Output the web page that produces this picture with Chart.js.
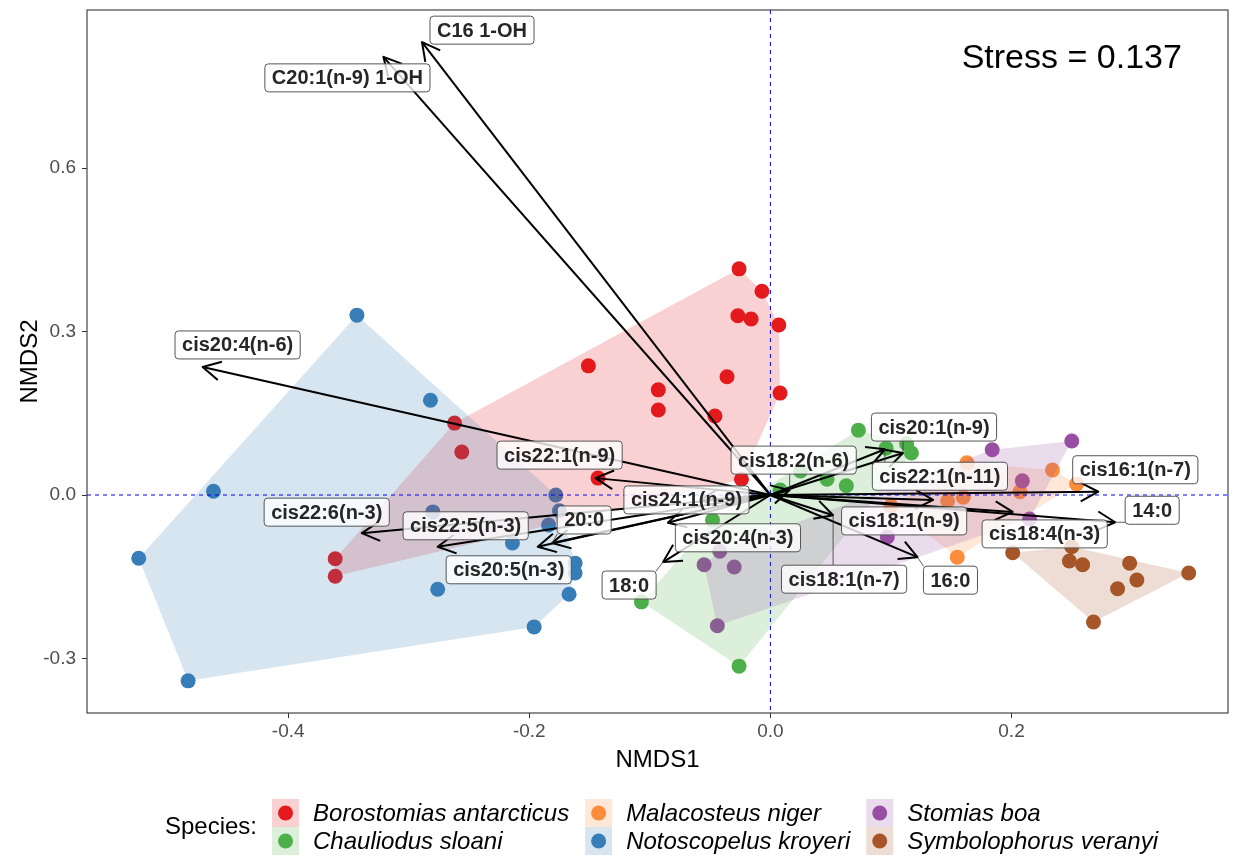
<!DOCTYPE html>
<html>
<head>
<meta charset="utf-8">
<title>NMDS ordination of fatty acid profiles</title>
<script src="https://cdn.jsdelivr.net/npm/chart.js@4.4.1/dist/chart.umd.min.js"></script>
<style>
  html, body { margin: 0; padding: 0; background: #ffffff; }
  canvas { display: block; }
</style>
</head>
<body>
<canvas id="nmds" width="1239" height="856"></canvas>
<script>
// ---- data ---------------------------------------------------------------
const speciesNames = [
  'Borostomias antarcticus', 'Chauliodus sloani', 'Malacosteus niger',
  'Notoscopelus kroyeri', 'Stomias boa', 'Symbolophorus veranyi'
];

const borostomiasX = [-0.026, -0.007, -0.027, -0.016, 0.007, -0.151, -0.036, 0.008, -0.093,
                      -0.093, -0.046, -0.024, -0.143, -0.262, -0.256, -0.361, -0.361];
const borostomiasY = [0.415, 0.374, 0.329, 0.323, 0.312, 0.237, 0.217, 0.187, 0.193,
                      0.156, 0.145, 0.029, 0.031, 0.132, 0.079, -0.117, -0.149];

const chauliodusX = [0.073, 0.096, 0.113, 0.117, 0.047, 0.063, 0.025, 0.008, -0.048, -0.107, -0.026];
const chauliodusY = [0.119, 0.086, 0.094, 0.077, 0.029, 0.017, 0.044, 0.009, -0.046, -0.196, -0.314];

const malacosteusX = [0.234, 0.254, 0.207, 0.163, 0.160, 0.147, 0.155, 0.100];
const malacosteusY = [0.046, 0.020, 0.006, 0.059, -0.004, -0.011, -0.114, -0.020];

const notoscopelusX = [-0.343, -0.282, -0.462, -0.524, -0.483, -0.280, -0.276, -0.178,
                       -0.175, -0.184, -0.214, -0.162, -0.162, -0.167, -0.196];
const notoscopelusY = [0.330, 0.174, 0.007, -0.116, -0.341, -0.031, -0.173, 0.000,
                       -0.029, -0.055, -0.088, -0.125, -0.143, -0.182, -0.242];

const stomiasX = [0.250, 0.184, 0.209, 0.215, 0.097, -0.042, -0.055, -0.030, -0.044];
const stomiasY = [0.099, 0.083, 0.026, -0.044, -0.077, -0.103, -0.128, -0.132, -0.240];

const symbolophorusX = [0.201, 0.250, 0.248, 0.259, 0.298, 0.304, 0.288, 0.347, 0.268];
const symbolophorusY = [-0.106, -0.095, -0.121, -0.128, -0.125, -0.156, -0.172, -0.143, -0.233];

// fitted fatty-acid vectors (envfit scores)
const vectorNames = [
  'C16 1-OH', 'C20:1(n-9) 1-OH', 'cis20:4(n-6)', 'cis22:1(n-9)', 'cis22:6(n-3)',
  'cis22:5(n-3)', 'cis20:5(n-3)', '20:0', 'cis24:1(n-9)', 'cis20:4(n-3)', '18:0',
  'cis18:2(n-6)', 'cis20:1(n-9)', 'cis22:1(n-11)', 'cis18:1(n-9)', 'cis18:1(n-7)',
  '16:0', 'cis18:4(n-3)', 'cis16:1(n-7)', '14:0'
];
const vectorX = [-0.289, -0.321, -0.471, -0.145, -0.339, -0.276, -0.193, -0.181, -0.058, -0.085,
                 -0.089, 0.016, 0.110, 0.095, 0.135, 0.052, 0.122, 0.201, 0.272, 0.286];
const vectorY = [0.831, 0.804, 0.235, 0.031, -0.070, -0.095, -0.095, -0.088, -0.009, -0.051,
                 -0.123, 0.009, 0.077, 0.084, -0.009, -0.037, -0.114, -0.031, 0.006, -0.050];

const xTickValues = [-0.4, -0.2, 0.0, 0.2];
const yTickValues = [-0.3, 0.0, 0.3, 0.6];
const stressValue = 0.137;

// ---- appearance ---------------------------------------------------------
const speciesColors = ['#E41A1C', '#4DAF4A', '#FD8D3C', '#377EB8', '#984EA3', '#A65628'];
const axisRange = { xMin: -0.5669, xMax: 0.3796, yMin: -0.400, yMax: 0.890 };
const stressAnchor = { x: 0.25, y: 0.80 };
// repelled label placement: offset of each label box centre from its arrow tip (px)
const labelNudge = [
  [60, -12], [-36, 21], [35, -22], [-36, -23], [-35, -21],
  [28, -21], [-29, 23], [32, -23], [-14, 0], [70, 15], [-34, 23],
  [4, -30], [31, -26], [55, 27], [-29, 21], [11, 64],
  [33, 23], [32, 22], [37, -22], [37, -12]
];
const FONT = '"Liberation Sans", Arial, Helvetica, sans-serif';

function hexToRgba(hex, a) {
  const n = parseInt(hex.slice(1), 16);
  return `rgba(${(n >> 16) & 255}, ${(n >> 8) & 255}, ${n & 255}, ${a})`;
}
function zipPoints(xs, ys) { return xs.map((v, i) => ({ x: v, y: ys[i] })); }

const speciesPoints = [
  zipPoints(borostomiasX, borostomiasY),
  zipPoints(chauliodusX, chauliodusY),
  zipPoints(malacosteusX, malacosteusY),
  zipPoints(notoscopelusX, notoscopelusY),
  zipPoints(stomiasX, stomiasY),
  zipPoints(symbolophorusX, symbolophorusY)
];

// Andrew's monotone chain convex hull
function convexHull(points) {
  const pts = points.slice().sort((a, b) => a.x - b.x || a.y - b.y);
  const cross = (o, a, b) => (a.x - o.x) * (b.y - o.y) - (a.y - o.y) * (b.x - o.x);
  const lower = [];
  for (const p of pts) {
    while (lower.length >= 2 && cross(lower[lower.length - 2], lower[lower.length - 1], p) <= 0) lower.pop();
    lower.push(p);
  }
  const upper = [];
  for (let i = pts.length - 1; i >= 0; i--) {
    const p = pts[i];
    while (upper.length >= 2 && cross(upper[upper.length - 2], upper[upper.length - 1], p) <= 0) upper.pop();
    upper.push(p);
  }
  upper.pop(); lower.pop();
  return lower.concat(upper);
}

// ---- datasets -----------------------------------------------------------
const pointDatasets = speciesNames.map((name, i) => ({
  label: name,
  data: speciesPoints[i],
  backgroundColor: speciesColors[i],
  borderWidth: 0,
  pointRadius: 7.5,
  pointHoverRadius: 7.5,
  order: 10 - i
}));

const vectorDatasets = vectorNames.map((name, i) => ({
  type: 'line',
  label: name,
  data: [{ x: 0, y: 0 }, { x: vectorX[i], y: vectorY[i] }],
  borderColor: '#000000',
  borderWidth: 2,
  pointRadius: 0,
  fill: false,
  tension: 0,
  order: 1
}));

// ---- drawing helpers ----------------------------------------------------
const ordinationOverlay = {
  id: 'ordinationOverlay',
  // hulls sit over the points, below the vectors
  afterDatasetDraw(chart, args) {
    if (args.index !== speciesNames.length - 1) return;
    const { ctx, chartArea: a, scales: { x, y } } = chart;
    ctx.save();
    ctx.beginPath();
    ctx.rect(a.left, a.top, a.right - a.left, a.bottom - a.top);
    ctx.clip();
    speciesPoints.forEach((pts, i) => {
      const hull = convexHull(pts);
      ctx.beginPath();
      hull.forEach((p, k) => {
        const px = x.getPixelForValue(p.x), py = y.getPixelForValue(p.y);
        if (k === 0) ctx.moveTo(px, py); else ctx.lineTo(px, py);
      });
      ctx.closePath();
      ctx.fillStyle = hexToRgba(speciesColors[i], 0.2);
      ctx.fill();
    });
    // zero reference lines
    const x0 = x.getPixelForValue(0), y0 = y.getPixelForValue(0);
    ctx.setLineDash([4, 4]);
    ctx.strokeStyle = '#0000FF';
    ctx.lineWidth = 1;
    ctx.beginPath();
    ctx.moveTo(x0, a.top); ctx.lineTo(x0, a.bottom);
    ctx.moveTo(a.left, y0); ctx.lineTo(a.right, y0);
    ctx.stroke();
    ctx.restore();
  },
  afterDatasetsDraw(chart) {
    const { ctx, chartArea: a, scales: { x, y } } = chart;
    const ox = x.getPixelForValue(0), oy = y.getPixelForValue(0);
    ctx.save();
    ctx.beginPath();
    ctx.rect(a.left, a.top, a.right - a.left, a.bottom - a.top);
    ctx.clip();

    // open arrowheads
    const headLen = 20, headAng = 28 * Math.PI / 180;
    ctx.strokeStyle = '#000000';
    ctx.lineWidth = 2;
    ctx.lineJoin = 'round';
    vectorNames.forEach((_, i) => {
      const tx = x.getPixelForValue(vectorX[i]), ty = y.getPixelForValue(vectorY[i]);
      const ang = Math.atan2(ty - oy, tx - ox);
      ctx.beginPath();
      ctx.moveTo(tx - headLen * Math.cos(ang - headAng), ty - headLen * Math.sin(ang - headAng));
      ctx.lineTo(tx, ty);
      ctx.lineTo(tx - headLen * Math.cos(ang + headAng), ty - headLen * Math.sin(ang + headAng));
      ctx.stroke();
    });

    // vector labels
    ctx.font = 'bold 20px ' + FONT;
    const boxes = vectorNames.map((name, i) => {
      const tx = x.getPixelForValue(vectorX[i]), ty = y.getPixelForValue(vectorY[i]);
      const w = ctx.measureText(name).width + 14, h = 28;
      const cx = tx + labelNudge[i][0], cy = ty + labelNudge[i][1];
      return { name, tx, ty, cx, cy, l: cx - w / 2, t: cy - h / 2, w, h };
    });
    boxes.forEach(b => {
      const nx = Math.min(Math.max(b.tx, b.l), b.l + b.w);
      const ny = Math.min(Math.max(b.ty, b.t), b.t + b.h);
      if (Math.hypot(b.tx - nx, b.ty - ny) > 9) {
        ctx.strokeStyle = '#333333';
        ctx.lineWidth = 0.8;
        ctx.beginPath();
        ctx.moveTo(nx, ny); ctx.lineTo(b.tx, b.ty);
        ctx.stroke();
      }
    });
    boxes.forEach(b => {
      ctx.beginPath();
      ctx.roundRect(b.l, b.t, b.w, b.h, 3.5);
      ctx.fillStyle = 'rgba(255,255,255,0.8)';
      ctx.fill();
      ctx.strokeStyle = '#555555';
      ctx.lineWidth = 1;
      ctx.stroke();
      ctx.fillStyle = '#262626';
      ctx.textAlign = 'center';
      ctx.textBaseline = 'middle';
      ctx.fillText(b.name, b.cx, b.cy + 1);
    });

    // stress annotation
    ctx.font = '34px ' + FONT;
    ctx.fillStyle = '#000000';
    ctx.textAlign = 'center';
    ctx.textBaseline = 'middle';
    ctx.fillText('Stress = ' + stressValue.toFixed(3),
      x.getPixelForValue(stressAnchor.x), y.getPixelForValue(stressAnchor.y));
    ctx.restore();

    // panel border
    ctx.save();
    ctx.strokeStyle = '#333333';
    ctx.lineWidth = 1.1;
    ctx.strokeRect(a.left, a.top, a.right - a.left, a.bottom - a.top);
    ctx.restore();
  },
  afterDraw(chart) {
    const { ctx, chartArea: a } = chart;
    ctx.save();
    const keyW = 27, rowH = 28, keyGap = 14, colGap = 16, titleGap = 15;
    const topY = 799;
    ctx.font = '24px ' + FONT;
    const titleText = 'Species:';
    const titleW = ctx.measureText(titleText).width;
    ctx.font = 'italic 24px ' + FONT;
    const nCols = Math.ceil(speciesNames.length / 2);
    const colW = [];
    for (let c = 0; c < nCols; c++) {
      let m = 0;
      for (let r = 0; r < 2; r++) {
        const k = c * 2 + r;
        if (k < speciesNames.length) m = Math.max(m, ctx.measureText(speciesNames[k]).width);
      }
      colW.push(keyW + keyGap + m);
    }
    const total = titleW + titleGap + colW.reduce((s, v) => s + v, 0) + colGap * (nCols - 1);
    const centre = (a.left + a.right) / 2 + 4;
    let cur = centre - total / 2;

    ctx.font = '24px ' + FONT;
    ctx.fillStyle = '#000000';
    ctx.textAlign = 'left';
    ctx.textBaseline = 'middle';
    ctx.fillText(titleText, cur, topY + rowH);
    cur += titleW + titleGap;

    ctx.font = 'italic 24px ' + FONT;
    for (let c = 0; c < nCols; c++) {
      for (let r = 0; r < 2; r++) {
        const k = c * 2 + r;
        if (k >= speciesNames.length) continue;
        const ky = topY + r * rowH;
        ctx.fillStyle = hexToRgba(speciesColors[k], 0.2);
        ctx.fillRect(cur, ky, keyW, rowH);
        ctx.beginPath();
        ctx.arc(cur + keyW / 2, ky + rowH / 2, 7.5, 0, Math.PI * 2);
        ctx.fillStyle = speciesColors[k];
        ctx.fill();
        ctx.fillStyle = '#000000';
        ctx.fillText(speciesNames[k], cur + keyW + keyGap, ky + rowH / 2 + 1);
      }
      cur += colW[c] + colGap;
    }
    ctx.restore();
  }
};

// ---- chart --------------------------------------------------------------
Chart.defaults.font.family = FONT;

new Chart(document.getElementById('nmds'), {
  type: 'scatter',
  data: { datasets: pointDatasets.concat(vectorDatasets) },
  options: {
    responsive: false,
    animation: false,
    devicePixelRatio: 1,
    layout: { padding: { top: 10, right: 11, left: 0, bottom: 0 } },
    plugins: { legend: { display: false }, tooltip: { enabled: false } },
    scales: {
      x: {
        type: 'linear',
        min: axisRange.xMin,
        max: axisRange.xMax,
        afterBuildTicks: s => { s.ticks = xTickValues.map(v => ({ value: v })); },
        afterFit: s => { s.height = 143; s.paddingLeft = 0; s.paddingRight = 0; },
        ticks: {
          callback: v => Number(v).toFixed(1),
          color: '#4D4D4D',
          font: { size: 19 },
          padding: 2,
          maxRotation: 0
        },
        grid: { display: true, drawOnChartArea: false, drawTicks: true, tickLength: 5, color: '#333333' },
        border: { display: false },
        title: {
          display: true, text: 'NMDS1', color: '#000000',
          font: { size: 24 }, padding: { top: 0, bottom: 81 }
        }
      },
      y: {
        type: 'linear',
        min: axisRange.yMin,
        max: axisRange.yMax,
        afterBuildTicks: s => { s.ticks = yTickValues.map(v => ({ value: v })); },
        afterFit: s => { s.width = 87; s.paddingTop = 0; s.paddingBottom = 0; },
        ticks: {
          callback: v => Number(v).toFixed(1),
          color: '#4D4D4D',
          font: { size: 19 },
          padding: 6
        },
        grid: { display: true, drawOnChartArea: false, drawTicks: true, tickLength: 5, color: '#333333' },
        border: { display: false },
        title: {
          display: true, text: 'NMDS2', color: '#000000',
          font: { size: 24 }, padding: { top: 16, bottom: 0 }
        }
      }
    }
  },
  plugins: [ordinationOverlay]
});
</script>
</body>
</html>
